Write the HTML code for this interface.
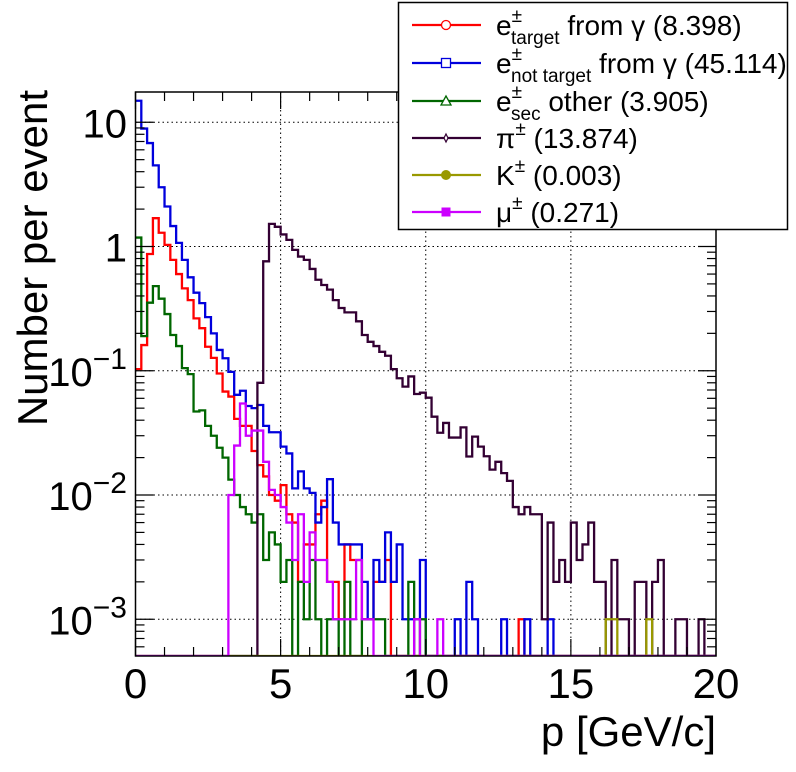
<!DOCTYPE html>
<html><head><meta charset="utf-8">
<style>
html,body{margin:0;padding:0;background:#fff;}
svg{display:block;font-family:"Liberation Sans",sans-serif;}
</style></head>
<body>
<svg id="chart" width="796" height="772" viewBox="0 0 796 772" xmlns="http://www.w3.org/2000/svg">
<defs><clipPath id="frameclip"><rect x="135.5" y="92" width="580.5" height="564"/></clipPath></defs>
<rect x="0" y="0" width="796" height="772" fill="#fff"/>
<g id="grid"></g>
<g id="series" clip-path="url(#frameclip)"></g>
<g id="axes"></g>
<text x="716" y="746" font-size="42" text-anchor="end">p [GeV/c]</text>
<text transform="translate(47,90) rotate(-90)" font-size="42" text-anchor="end">Number per event</text>
<g id="legend">
<rect x="398.5" y="2.5" width="389" height="227" fill="#fff" stroke="#000" stroke-width="1.5"/>
</g>
</svg>
<script>
const binWidth = 0.2;
const xTicks = [0,5,10,15,20];
const yTickExps = [1,0,-1,-2,-3];
const seriesNames = ["e-target","e-not-target","e-sec-other","pion","kaon","muon"];
const redVals = [0.103,0.161,0.87,1.69,1.29,1.03,0.78,0.60,0.46,0.37,0.264,0.22,0.156,0.127,0.095,0.068,0.062,0.041,0.036,0.036,0.0226,0.0174,0.0141,0.010,0.009,0.012,0.007,0.006,0.002,0.004,0.004,0.007,0.009,0.002,0.002,0.001,0.004,0.003,0.003,0.001,0.001,0.002,0.002,0.003,0,0,0,0,0,0,0,0,0,0,0,0,0,0,0,0,0,0,0,0,0,0,0.001];
const blueVals = [14.9,8.9,6.8,4.5,3.0,2.1,1.46,1.07,0.78,0.565,0.425,0.35,0.27,0.2,0.147,0.126,0.098,0.064,0.069,0.052,0.05,0.053,0.036,0.032,0.032,0.0245,0.0216,0.0113,0.0155,0.0113,0.0104,0.006,0.008,0.0134,0.006,0.004,0.004,0.004,0.004,0.002,0.001,0.003,0.002,0.005,0.002,0.004,0.001,0.001,0.001,0.003,0,0,0,0,0,0.001,0,0.002,0.001,0,0,0,0,0.001,0,0,0,0.001,0,0,0,0.001];
const greenVals = [1.18,0.19,0.353,0.48,0.38,0.286,0.194,0.158,0.105,0.094,0.047,0.048,0.036,0.030,0.024,0.020,0.0133,0.010,0.008,0.007,0.006,0.007,0.003,0.005,0.004,0.002,0.003,0,0.002,0.001,0.003,0.001,0,0.001,0.001,0,0.002,0,0,0.001,0.001,0.001,0.001,0,0,0,0,0.002,0,0.001];
const pionVals = [0,0,0,0,0,0,0,0,0,0,0,0,0,0,0,0,0,0,0,0,0,0.08,0.76,1.52,1.44,1.25,1.13,0.94,0.83,0.78,0.66,0.54,0.49,0.45,0.37,0.32,0.295,0.295,0.25,0.194,0.171,0.158,0.142,0.132,0.103,0.087,0.0745,0.09,0.065,0.0666,0.0607,0.0427,0.0317,0.038,0.029,0.029,0.035,0.0204,0.0295,0.0245,0.0205,0.016,0.0185,0.015,0.013,0.008,0.007,0.008,0.007,0.007,0.001,0.006,0.002,0.003,0.002,0.006,0.003,0.004,0.006,0.002,0.002,0,0.003,0.001,0.001,0,0.002,0.002,0,0.002,0.003,0,0,0.001,0.001,0,0,0.001,0,0];
const kaonVals = [0,0,0,0,0,0,0,0,0,0,0,0,0,0,0,0,0,0,0,0,0,0,0,0,0,0,0,0,0,0,0,0,0,0,0,0,0,0,0,0,0,0,0,0,0,0,0,0,0,0,0,0,0,0,0,0,0,0,0,0,0,0,0,0,0,0,0,0,0,0,0,0,0,0,0,0,0,0,0,0,0,0.001,0.001,0,0,0,0,0,0.001,0,0,0,0,0,0,0,0,0,0,0];
const muonVals = [0,0,0,0,0,0,0,0,0,0,0,0,0,0,0,0,0.010,0.025,0.0545,0.030,0.033,0.033,0.0185,0.011,0.010,0.008,0.006,0.003,0.007,0.002,0.005,0.003,0.003,0.002,0.001,0.001,0.001,0.001,0.003,0.001,0.001,0,0,0,0,0,0,0,0.001,0,0,0,0.001];
const legendLabels = ["(8.398)","(45.114)","(3.905)","(13.874)","(0.003)","(0.271)"];

const NS="http://www.w3.org/2000/svg";
const X0=135.5,X1=716,Y0=92,Y1=656;
function xs(v){return X0+(v/20)*(X1-X0);}
function ys(v){if(v<=0)return Y1;const y=246.5-Math.log10(v)*124.25;return Math.min(Y1,Math.max(Y0-5,y));}
function mk(tag,attrs,parent){const e=document.createElementNS(NS,tag);for(const k in attrs)e.setAttribute(k,attrs[k]);parent.appendChild(e);return e;}
const grid=document.getElementById('grid'),axes=document.getElementById('axes'),series=document.getElementById('series'),legend=document.getElementById('legend');

for(const t of xTicks){ if(t===0||t===20)continue;
  const l=mk('line',{x1:xs(t),x2:xs(t),y1:Y0,y2:Y1,stroke:'#000','stroke-width':1,'stroke-dasharray':'1.5,3'},grid);
  
  
}
for(const e of yTickExps){
  const y=ys(Math.pow(10,e));
  const l=mk('line',{x1:X0,x2:X1,y1:y,y2:y,stroke:'#000','stroke-width':1,'stroke-dasharray':'1.5,3'},grid);
  
  
}

function stepPath(vals){
  let d='M'+xs(0)+','+ys(vals[0]);
  for(let i=0;i<100;i++){
    const v=i<vals.length?vals[i]:0;
    if(i>0)d+=' V'+ys(v);
    d+=' H'+xs((i+1)*binWidth);
  }
  return d;
}
const allVals=[redVals,blueVals,greenVals,pionVals,kaonVals,muonVals];
const colors=['#ff0000','#0000dd','#006600','#330033','#999900','#cc00ff'];
for(let s=0;s<allVals.length;s++){
  const p=mk('path',{d:stepPath(allVals[s]),fill:'none',stroke:colors[s],'stroke-width':2.3},series);
  
  
}

const fr=mk('rect',{x:X0,y:Y0,width:X1-X0,height:Y1-Y0,fill:'none',stroke:'#000','stroke-width':1.5},axes);


for(let v=0;v<=20.001;v+=1){
  const major=(Math.round(v)%5===0);const len=major?17:9;const x=xs(v);
  mk('line',{x1:x,x2:x,y1:Y1,y2:Y1-len,stroke:'#000','stroke-width':1.2},axes);
  mk('line',{x1:x,x2:x,y1:Y0,y2:Y0+len,stroke:'#000','stroke-width':1.2},axes);
}
for(let e=-4;e<=1;e++){
  for(let m=1;m<=9;m++){
    const v=m*Math.pow(10,e);const y=246.5-Math.log10(v)*124.25;
    if(y<Y0||y>Y1)continue;const len=m===1?18:9;
    mk('line',{x1:X0,x2:X0+len,y1:y,y2:y,stroke:'#000','stroke-width':1.2},axes);
    mk('line',{x1:X1,x2:X1-len,y1:y,y2:y,stroke:'#000','stroke-width':1.2},axes);
  }
}
for(const t of xTicks){
  const tx=mk('text',{x:xs(t),y:698,'font-size':42,'text-anchor':'middle'},axes);
  tx.textContent=String(t);
  
  
}
for(const e of yTickExps){
  const y=ys(Math.pow(10,e));
  const tx=mk('text',{x:127,y:y+15,'font-size':40,'text-anchor':'end'},axes);
  if(e===1)tx.textContent='10';
  else if(e===0)tx.textContent='1';
  else{tx.textContent='10';const sp=mk('tspan',{dy:-17,'font-size':30},tx);sp.textContent='\u2212'+(-e);}
  
  
}

const rowsY=[25,63,101,138,175,212];
const mainTxt=[['e','±','target',' from γ '],['e','±','not target',' from γ '],['e','±','sec',' other '],['π','±','',' '],['K','±','',' '],['μ','±','',' ']];
for(let i=0;i<6;i++){
  const g=mk('g',{},legend);
  
  
  const y=rowsY[i];
  mk('line',{x1:412,x2:481,y1:y,y2:y,stroke:colors[i],'stroke-width':2.3},g);
  if(i===0)mk('circle',{cx:446,cy:y,r:4.5,fill:'#fff',stroke:colors[i],'stroke-width':1.3},g);
  if(i===1)mk('rect',{x:441.5,y:y-4.5,width:9,height:9,fill:'#fff',stroke:colors[i],'stroke-width':1.3},g);
  if(i===2)mk('polygon',{points:(446)+','+(y-5)+' '+(441)+','+(y+4)+' '+(451)+','+(y+4),fill:'#fff',stroke:colors[i],'stroke-width':1.3},g);
  if(i===3)mk('polygon',{points:'446,'+(y-4)+' 448,'+y+' 446,'+(y+4)+' 444,'+y,fill:'#fff',stroke:colors[i],'stroke-width':1.2},g);
  if(i===4)mk('circle',{cx:446,cy:y,r:5,fill:colors[i]},g);
  if(i===5)mk('rect',{x:441.5,y:y-4.5,width:9,height:9,fill:colors[i]},g);
  const t=mk('text',{x:496,y:y+10,'font-size':28},g);
  const a=mk('tspan',{},t);a.textContent=mainTxt[i][0];
  const sup=mk('tspan',{'font-size':19,dy:-13},t);sup.textContent=mainTxt[i][1];
  if(mainTxt[i][2]){
    const w=mainTxt[i][0]==='e'?15:0;
    const sub=mk('tspan',{'font-size':19,dy:22,x:496+w},t);sub.textContent=mainTxt[i][2];
    const rest=mk('tspan',{dy:-9},t);rest.textContent=mainTxt[i][3]+legendLabels[i];
  } else {
    const rest=mk('tspan',{dy:13},t);rest.textContent=mainTxt[i][3]+legendLabels[i];
  }
}
</script>
</body></html>
